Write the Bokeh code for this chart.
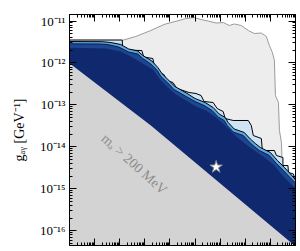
import numpy as np
from bokeh.plotting import figure
from bokeh.models import LogAxis, FixedTicker, Label, Range1d
from bokeh.embed import file_html
from bokeh.resources import INLINE

# ---- data (log10 of tau_a [s] and of g_agamma [GeV^-1]) ----
# outer (light grey) region outline
grey_log_tau = [3.64, 6.08, 6.64, 7.24, 7.76, 8.28, 8.64, 8.96, 9.24, 9.52, 9.84, 10.12,
                10.36, 10.56, 10.84, 11.12, 11.36, 11.64, 11.84, 11.96, 12.08, 12.16,
                12.20, 12.32, 12.36, 12.44, 12.48, 12.52]
grey_log_g = [-11.465, -11.465, -11.369, -11.226, -11.083, -11.000, -10.940, -10.917,
              -10.964, -11.000, -11.048, -11.036, -11.107, -11.071, -11.107, -11.226,
              -11.298, -11.286, -11.369, -11.584, -11.751, -11.941, -12.775, -12.942,
              -13.609, -13.896, -14.611, -15.278]

# outermost contour (black line, pale fill)
outer_log_tau = [3.64, 6.10, 6.12, 6.88, 6.96, 7.32, 7.40, 7.56, 7.76, 7.88, 8.12, 8.28,
                 8.52, 8.76, 9.04, 9.24, 9.36, 9.72, 9.88, 10.12, 10.20, 10.52, 11.12,
                 11.24, 11.32, 11.64, 11.68, 12.16, 12.24, 12.50, 12.50, 12.70, 12.72,
                 12.92, 12.96, 13.24]
outer_log_g = [-11.453, -11.453, -11.691, -11.703, -11.858, -11.894, -12.132, -12.227,
               -12.275, -12.418, -12.466, -12.609, -12.656, -12.704, -12.728, -12.776,
               -12.918, -12.942, -13.085, -13.157, -13.324, -13.371, -13.371, -13.491,
               -13.729, -13.800, -14.086, -14.086, -14.205, -14.253, -14.444, -14.444,
               -14.611, -14.646, -14.760, -14.780]

# middle contour (black line, medium-blue band)
mid_log_tau = [3.64, 5.32, 5.64, 6.04, 6.36, 6.72, 6.92, 7.28, 7.52, 7.68, 7.92, 8.20,
               8.48, 8.72, 9.00, 9.40, 9.72, 9.96, 10.20, 10.32, 10.56, 10.96, 11.20,
               11.40, 11.60, 12.00, 12.28, 12.56, 12.80, 13.04, 13.24]
mid_log_g = [-11.489, -11.493, -11.512, -11.560, -11.667, -11.715, -11.822, -11.953,
             -12.108, -12.251, -12.394, -12.561, -12.656, -12.740, -12.847, -12.942,
             -13.061, -13.216, -13.300, -13.419, -13.574, -13.657, -13.812, -13.919,
             -14.014, -14.134, -14.324, -14.491, -14.646, -14.813, -14.849]

# inner (best-fit, dark) region
inner_log_tau = [3.64, 5.24, 5.52, 5.96, 6.36, 6.72, 6.92, 7.24, 7.50, 7.64, 7.90, 8.16,
                 8.44, 8.68, 9.00, 9.36, 9.68, 9.92, 10.16, 10.28, 10.52, 10.92, 11.16,
                 11.36, 11.56, 11.96, 12.24, 12.52, 12.76, 13.04, 13.24]
inner_log_g = [-11.543, -11.548, -11.560, -11.620, -11.739, -11.786, -11.894, -12.025,
               -12.180, -12.323, -12.466, -12.632, -12.728, -12.811, -12.918, -13.014,
               -13.133, -13.288, -13.371, -13.491, -13.645, -13.729, -13.884, -13.991,
               -14.086, -14.205, -14.396, -14.563, -14.718, -14.885, -14.921]

# darkest core of the inner region
core_log_tau = [3.64, 5.44, 6.04, 6.44, 6.92, 7.32, 7.64, 7.92, 8.24, 8.64, 9.04, 9.44,
                9.84, 10.24, 10.64, 11.24, 11.72, 12.12, 12.52, 12.84, 13.24]
core_log_g = [-11.632, -11.655, -11.727, -11.846, -12.013, -12.156, -12.418, -12.585,
              -12.752, -12.895, -13.038, -13.133, -13.300, -13.515, -13.753, -14.039,
              -14.229, -14.420, -14.706, -14.897, -15.088]

# m_a > 200 MeV boundary
heavy_log_tau = [3.5, 4.0, 7.24, 12.96, 13.5]
heavy_log_g = [-11.72, -12.006, -13.49, -16.35, -16.62]

best_log_tau = [9.84]
best_log_g = [-14.48]

x_lo, x_hi = 4.0, 13.0
y_lo, y_hi = -16.35, -10.845

p = figure(x_axis_type="log", y_axis_type="log",
           x_range=Range1d(10**x_lo, 10**x_hi), y_range=Range1d(10**y_lo, 10**y_hi),
           frame_width=226, frame_height=231,
           min_border_left=69, min_border_right=5, min_border_top=14, min_border_bottom=6,
           output_backend="svg", toolbar_location=None)
p.grid.visible = False
p.outline_line_color = "black"
p.background_fill_color = "white"

P = lambda a: [10.0**v for v in a]
pad_lo, pad_hi = y_lo - 0.3, x_hi + 0.5

# outer grey region
gx = grey_log_tau + [pad_hi, pad_hi, grey_log_tau[0]]
gy = grey_log_g + [grey_log_g[-1], pad_lo, pad_lo]
p.patch(P(gx), P(gy), fill_color="#ededed", line_color=None)
p.line(P(grey_log_tau), P(grey_log_g), line_color="#9a9a9a", line_width=1)

def region(lt, lg, fill, line):
    xs = lt + [pad_hi, lt[0]]
    ys = lg + [pad_lo, pad_lo]
    p.patch(P(xs), P(ys), fill_color=fill, line_color=None)
    if line is not None:
        p.line(P(lt), P(lg), line_color=line, line_width=1)

region(outer_log_tau, outer_log_g, "#cfe3f4", "black")
region(mid_log_tau, mid_log_g, "#5aa8dd", "black")
region(inner_log_tau, inner_log_g, "#1d4590", "#0b1d52")
region(core_log_tau, core_log_g, "#10296e", None)

hx = heavy_log_tau + [heavy_log_tau[0]]
hy = heavy_log_g + [heavy_log_g[-1]]
p.patch(P(hx), P(hy), fill_color="#d3d3d3", line_color=None)

p.scatter(P(best_log_tau), P(best_log_g), marker="star", size=13,
          fill_color="white", line_color="#8a8a8a", line_width=1)

p.add_layout(Label(x=10**6.58, y=10**-14.41, text="mₐ > 200 MeV", angle=-42, angle_units="deg",
                   text_align="center", text_baseline="middle", text_color="#8c8c8c",
                   text_font="Liberation Serif", text_font_size="14px"))
p.add_layout(Label(x=10**13.0, y=10**-10.70, text="GAMBIT::CosmoBit", text_align="right",
                   text_baseline="middle", text_color="#444444", text_font="Liberation Sans",
                   text_font_size="7px"))

x_major = [10.0**k for k in range(4, 14)]
x_minor = [m * 10.0**k for k in range(3, 14) for m in range(2, 10)]
y_major = [10.0**k for k in range(-17, -9)]
y_minor = [m * 10.0**k for k in range(-17, -9) for m in range(2, 10)]
sup = str.maketrans("0123456789-", "⁰¹²³⁴⁵⁶⁷⁸⁹⁻")
y_labels = {10.0**k: "10" + str(k).translate(sup) for k in range(-17, -9)}

p.add_layout(LogAxis(), "above")
p.add_layout(LogAxis(), "right")

for ax in p.xaxis:
    ax.ticker = FixedTicker(ticks=x_major, minor_ticks=x_minor)
for ax in p.yaxis:
    ax.ticker = FixedTicker(ticks=y_major, minor_ticks=y_minor)
for ax in list(p.xaxis) + list(p.yaxis):
    ax.major_tick_in = 7
    ax.major_tick_out = 0
    ax.minor_tick_in = 3
    ax.minor_tick_out = 0
    ax.axis_line_color = "black"
    ax.major_tick_line_color = "black"
    ax.minor_tick_line_color = "black"
    ax.major_label_standoff = 0
    ax.major_label_text_font_size = "1px"
    ax.major_label_text_color = None

left = p.yaxis[0]
left.major_label_overrides = y_labels
left.major_label_text_font_size = "13px"
left.major_label_text_color = "black"
left.major_label_text_font = "Liberation Serif"
left.major_label_standoff = 4
left.axis_label = "gₐᵧ [GeV⁻¹]"
left.axis_label_text_font = "Liberation Serif"
left.axis_label_text_font_style = "normal"
left.axis_label_text_color = "black"
left.axis_label_text_font_size = "14px"
left.axis_label_standoff = 10

open("out.html", "w").write(file_html(p, INLINE))
